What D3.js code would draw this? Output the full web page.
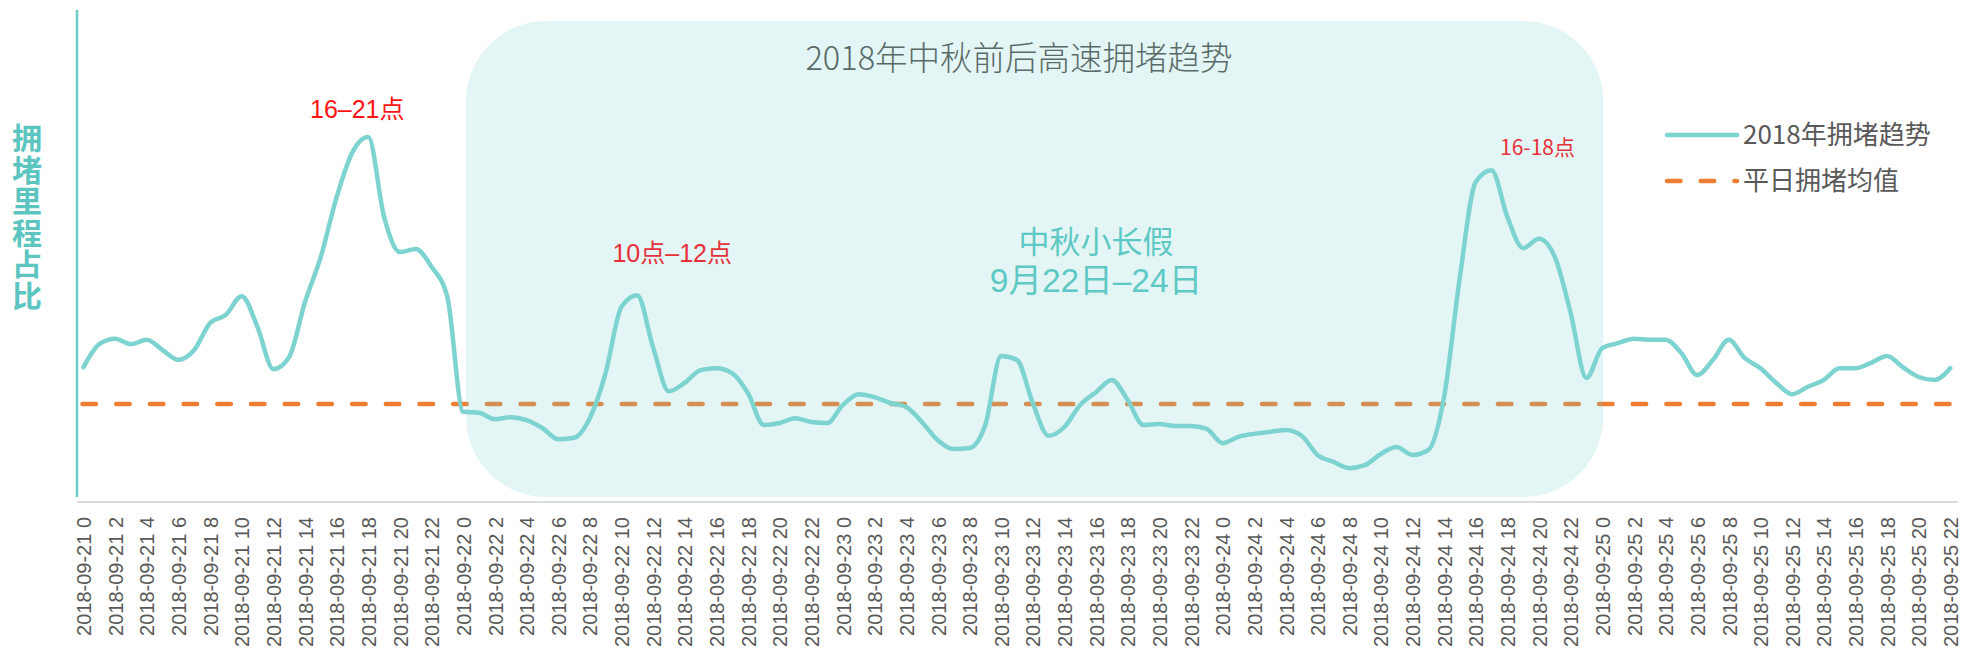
<!DOCTYPE html>
<html>
<head>
<meta charset="utf-8">
<script src="https://cdn.jsdelivr.net/npm/d3@7"></script>
<style>
  html, body { margin: 0; padding: 0; background: #fff; }
  svg { display: block; }
</style>
</head>
<body>
<div id="viz"></div>
<script>
const days = ["2018-09-21", "2018-09-22", "2018-09-23", "2018-09-24", "2018-09-25"];
const lastHour = 22;

// hourly share of congested mileage (%)
const congestion = [
  2.71, 3.18, 3.29, 3.18, 3.27, 3.06, 2.86, 3.06, 3.61, 3.78, 4.16, 3.53,
  2.67, 2.92, 4.04, 4.96, 6.18, 7.10, 7.41, 5.78, 5.06, 5.12, 4.76, 4.14,
  1.80, 1.78, 1.65, 1.69, 1.63, 1.47, 1.24, 1.27, 1.67, 2.59, 3.94, 4.18,
  3.12, 2.22, 2.39, 2.65, 2.69, 2.59, 2.18, 1.53, 1.57, 1.67, 1.59, 1.57,
  1.94, 2.16, 2.10, 1.98, 1.90, 1.59, 1.22, 1.04, 1.06, 1.53, 2.94, 2.86,
  1.98, 1.31, 1.49, 1.94, 2.20, 2.45, 2.04, 1.53, 1.55, 1.51, 1.51, 1.45,
  1.16, 1.29, 1.35, 1.39, 1.43, 1.31, 0.92, 0.78, 0.65, 0.71, 0.94, 1.08,
  0.92, 1.02, 2.10, 4.55, 6.49, 6.73, 5.78, 5.14, 5.33, 4.96, 3.82, 2.49,
  3.10, 3.20, 3.29, 3.27, 3.27, 3.00, 2.55, 2.86, 3.27, 2.90, 2.69, 2.39,
  2.16, 2.31, 2.45, 2.69, 2.69, 2.80, 2.94, 2.71, 2.51, 2.45, 2.69
];
const averageValue = 1.96;

const holidayRange = ["2018-09-22 0", "2018-09-25 0"];
const holidayText = ["中秋小长假", "9月22日–24日"];
const peakNotes = [
  { at: "2018-09-21 18", value: 7.41, text: "16–21点", size: 25, color: "#ff1414", dx: -11, dy: -19 },
  { at: "2018-09-22 11", value: 4.18, text: "10点–12点", size: 25, color: "#e8303a", dx: 35, dy: -33 },
  { at: "2018-09-24 17", value: 6.73, text: "16-18点", size: 21, color: "#e8303a", dx: 46, dy: -15 }
];

const titleText = "2018年中秋前后高速拥堵趋势";
const yTitle = "拥堵里程占比";
const legendItems = ["2018年拥堵趋势", "平日拥堵均值"];

const config = {
  width: 1962,
  height: 660,
  left: 83.5,
  right: 1950.3,
  top: 10,
  bottom: 500,
  axisY: 502,
  lineColor: "#7dd3cf",
  avgColor: "#ed7d31",
  axisColor: "#6ccdc8",
  cjk: "'Noto Sans CJK SC', 'Noto Sans', sans-serif",
  mixed: "'Liberation Sans', 'Noto Sans CJK SC', sans-serif",
  latin: "'Liberation Sans', Arial, sans-serif",
};

const categories = [];
days.forEach((d, di) => {
  const maxH = di === days.length - 1 ? lastHour : 23;
  for (let h = 0; h <= maxH; h++) categories.push(d + " " + h);
});
const data = categories.map((c, i) => ({ cat: c, value: congestion[i] }));

const svg = d3
  .select("#viz")
  .append("svg")
  .attr("width", config.width)
  .attr("height", config.height);

const x = d3.scalePoint().domain(categories).range([config.left, config.right]);
const y = d3.scaleLinear().domain([0, 10]).range([config.bottom, config.top]);

// average line (under the holiday band)
svg
  .append("line")
  .attr("x1", x(categories[0]) - 1)
  .attr("x2", x(categories[categories.length - 1]))
  .attr("y1", y(averageValue))
  .attr("y2", y(averageValue))
  .attr("stroke", config.avgColor)
  .attr("stroke-width", 4.5)
  .attr("stroke-linecap", "round")
  .attr("stroke-dasharray", "13.5,20.2");

// holiday band
svg
  .append("rect")
  .attr("x", x(holidayRange[0]) + 3)
  .attr("y", 21)
  .attr("width", x(holidayRange[1]) - x(holidayRange[0]) - 2)
  .attr("height", 476)
  .attr("rx", 80)
  .attr("ry", 80)
  .attr("fill", config.lineColor)
  .attr("fill-opacity", 0.21);

// y axis line
svg
  .append("line")
  .attr("x1", 77)
  .attr("x2", 77)
  .attr("y1", 10)
  .attr("y2", 497)
  .attr("stroke", config.axisColor)
  .attr("stroke-width", 2.5);

// x axis
svg
  .append("line")
  .attr("x1", 77)
  .attr("x2", 1958)
  .attr("y1", config.axisY)
  .attr("y2", config.axisY)
  .attr("stroke", "#dcdcdc")
  .attr("stroke-width", 2);

const xAxis = d3
  .axisBottom(x)
  .tickValues(categories.filter((c, i) => i % 2 === 0))
  .tickSize(0)
  .tickSizeOuter(0);

const gx = svg
  .append("g")
  .attr("transform", `translate(0,${config.axisY})`)
  .call(xAxis);
gx.select(".domain").remove();
gx.selectAll("text")
  .attr("transform", "rotate(-90)")
  .attr("x", -15)
  .attr("y", 0)
  .attr("dy", "0.36em")
  .attr("text-anchor", "end")
  .attr("font-family", config.latin)
  .attr("font-size", 20)
  .attr("fill", "#595959");

// congestion line
const line = d3
  .line()
  .x((d) => x(d.cat))
  .y((d) => y(d.value))
  .curve(d3.curveMonotoneX);

svg
  .append("path")
  .datum(data)
  .attr("d", line)
  .attr("fill", "none")
  .attr("stroke", config.lineColor)
  .attr("stroke-width", 4.5)
  .attr("stroke-linejoin", "round")
  .attr("stroke-linecap", "round");

// title
svg
  .append("text")
  .attr("x", 1019)
  .attr("y", 70)
  .attr("text-anchor", "middle")
  .attr("font-family", config.cjk)
  .attr("font-size", 32.5)
  .attr("font-weight", 300)
  .attr("fill", "#5a6a68")
  .text(titleText);

// holiday label
holidayText.forEach((t, i) => {
  svg
    .append("text")
    .attr("x", 1096)
    .attr("y", 253 + i * 39)
    .attr("text-anchor", "middle")
    .attr("font-family", i === 0 ? config.cjk : config.mixed)
    .attr("font-size", i === 0 ? 31 : 33.5)
    .attr("fill", "#5ec9c4")
    .text(t);
});

// peak notes
peakNotes.forEach((n) => {
  svg
    .append("text")
    .attr("x", x(n.at) + n.dx)
    .attr("y", y(n.value) + n.dy)
    .attr("text-anchor", "middle")
    .attr("font-family", n.size > 22 ? config.mixed : config.cjk)
    .attr("font-size", n.size)
    .attr("fill", n.color)
    .text(n.text);
});

// y title, written top to bottom
svg
  .append("text")
  .attr("x", 27)
  .attr("y", 123)
  .attr("writing-mode", "tb")
  .attr("font-family", config.cjk)
  .attr("font-size", 30)
  .attr("font-weight", "bold")
  .attr("letter-spacing", 1.5)
  .attr("fill", "#5cc5c0")
  .text(yTitle);

// legend
const legend = svg.append("g").attr("transform", "translate(1667,135)");
legend
  .append("line")
  .attr("x1", 0)
  .attr("x2", 70)
  .attr("stroke", config.lineColor)
  .attr("stroke-width", 4.5)
  .attr("stroke-linecap", "round");
legend
  .append("line")
  .attr("x1", 0)
  .attr("x2", 70)
  .attr("y1", 46)
  .attr("y2", 46)
  .attr("stroke", config.avgColor)
  .attr("stroke-width", 4.5)
  .attr("stroke-linecap", "round")
  .attr("stroke-dasharray", "13.5,20.2");
legendItems.forEach((t, i) => {
  legend
    .append("text")
    .attr("x", 76)
    .attr("y", i * 46)
    .attr("dy", "0.36em")
    .attr("font-family", config.cjk)
    .attr("font-size", 26)
    .attr("fill", "#595959")
    .text(t);
});
</script>
</body>
</html>
